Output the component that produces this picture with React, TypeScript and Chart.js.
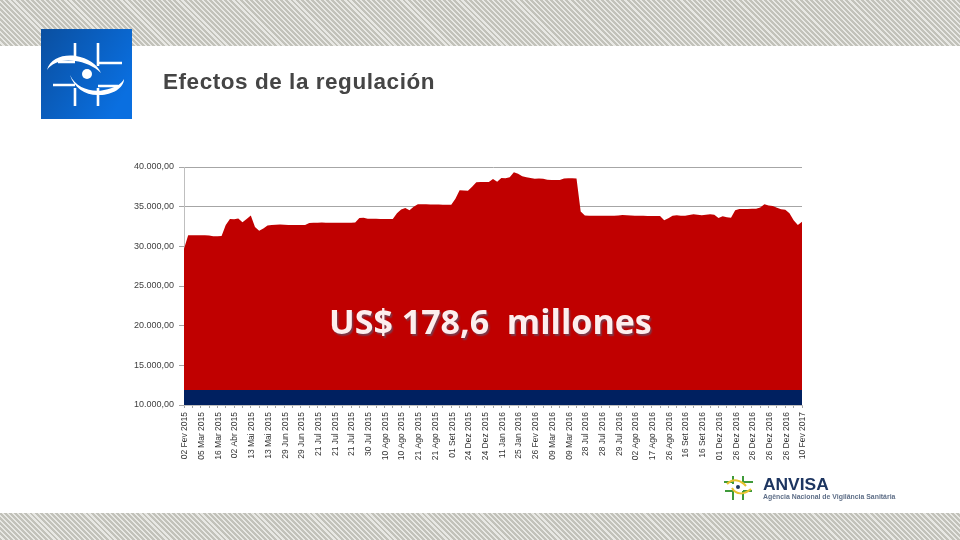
import React, { useEffect, useRef } from "react";
import { Chart, registerables } from "chart.js";

Chart.register(...registerables);

const tickLabels = [
  "02 Fev 2015", "05 Mar 2015", "16 Mar 2015", "02 Abr 2015", "13 Mai 2015", "13 Mai 2015",
  "29 Jun 2015", "29 Jun 2015", "21 Jul 2015", "21 Jul 2015", "21 Jul 2015", "30 Jul 2015",
  "10 Ago 2015", "10 Ago 2015", "21 Ago 2015", "21 Ago 2015", "01 Set 2015", "24 Dez 2015",
  "24 Dez 2015", "11 Jan 2016", "25 Jan 2016", "26 Fev 2016", "09 Mar 2016", "09 Mar 2016",
  "28 Jul 2016", "28 Jul 2016", "29 Jul 2016", "02 Ago 2016", "17 Ago 2016", "26 Ago 2016",
  "16 Set 2016", "16 Set 2016", "01 Dez 2016", "26 Dez 2016", "26 Dez 2016", "26 Dez 2016",
  "26 Dez 2016", "10 Fev 2017",
];

const redValues = [
  29700, 31390, 31400, 31400, 31400, 31400, 31350, 31280, 31280, 31290,
  32700, 33440, 33400, 33520, 33050, 33450, 33880, 32440, 31950, 32250,
  32640, 32680, 32710, 32750, 32720, 32690, 32690, 32680, 32680, 32680,
  32940, 32980, 32980, 32990, 32980, 32980, 32970, 32980, 32980, 32980,
  32980, 32990, 33580, 33600, 33480, 33480, 33470, 33460, 33450, 33450,
  33450, 34180, 34650, 34830, 34560, 35000, 35300, 35300, 35290, 35280,
  35270, 35260, 35250, 35240, 35250, 36000, 37060, 37040, 37010, 37500,
  38070, 38100, 38100, 38110, 38490, 38150, 38620, 38580, 38700, 39350,
  39150, 38830, 38720, 38600, 38530, 38550, 38520, 38400, 38370, 38360,
  38360, 38550, 38580, 38580, 38560, 34400, 33880, 33860, 33860, 33860,
  33860, 33860, 33860, 33870, 33900, 33950, 33920, 33880, 33860, 33860,
  33850, 33830, 33820, 33820, 33820, 33280, 33550, 33850, 33930, 33860,
  33870, 33960, 34030, 33980, 33920, 33990, 34050, 33970, 33560, 33780,
  33660, 33600, 34550, 34720, 34720, 34720, 34730, 34740, 34900, 35290,
  35150, 35080, 34850, 34680, 34600, 34180, 33300, 32700, 33110,
];

const blueLevel = 11900;
const blueValues = redValues.map(() => blueLevel);
const pointsPerLabel = 4;
const categories = redValues.map((_, i) =>
  i % pointsPerLabel === 0 ? tickLabels[i / pointsPerLabel] : ""
);

const stripes =
  "repeating-linear-gradient(45deg, #c2c2ba 0px, #c2c2ba 2.1px, #e8e8e4 2.1px, #e8e8e4 3.6px)";

function formatTick(v: number) {
  return String(Math.round(v)).replace(/\B(?=(\d{3})+$)/g, ".") + ",00";
}

export default function App() {
  const ref = useRef<HTMLCanvasElement>(null);
  useEffect(() => {
    const chart = new Chart(ref.current!, {
      type: "line",
      data: {
        labels: categories,
        datasets: [
          { data: blueValues, backgroundColor: "#002060", borderWidth: 0, pointRadius: 0, fill: "origin", tension: 0 },
          { data: redValues, backgroundColor: "#C00000", borderWidth: 0, pointRadius: 0, fill: "origin", tension: 0 },
        ],
      },
      options: {
        responsive: false,
        animation: false,
        layout: { padding: { top: 167, right: 158, left: 0, bottom: 0 } },
        plugins: { legend: { display: false }, tooltip: { enabled: false } },
        scales: {
          y: {
            min: 10000,
            max: 40000,
            afterFit: (s: any) => { s.width = 184; },
            ticks: {
              stepSize: 5000,
              padding: 5,
              color: "#404040",
              font: { family: "Liberation Sans", size: 9 },
              callback: (v: any) => formatTick(Number(v)),
            },
            grid: { color: "#A6A6A6", tickLength: 5 },
            border: { color: "#BFBFBF" },
          },
          x: {
            afterFit: (s: any) => { s.height = 135; },
            ticks: {
              autoSkip: false,
              maxRotation: 90,
              minRotation: 90,
              padding: 4,
              labelOffset: 1,
              color: "#333333",
              font: { family: "Liberation Sans", size: 8.5 },
            },
            grid: {
              drawOnChartArea: false,
              tickLength: 3,
              tickColor: (c: any) => (c.index % 2 === 0 ? "#A6A6A6" : "rgba(0,0,0,0)"),
            },
            border: { color: "#BFBFBF" },
          },
        },
      },
    } as any);
    return () => chart.destroy();
  }, []);

  return (
    <div style={{ position: "fixed", left: 0, top: 0, width: 960, height: 540, background: "#fff", overflow: "hidden" }}>
      <div style={{ position: "absolute", left: 0, top: 0, width: 960, height: 46, background: stripes }} />
      <div style={{ position: "absolute", left: 0, top: 513, width: 960, height: 27, background: stripes }} />
      <canvas ref={ref} width={960} height={540} style={{ position: "absolute", left: 0, top: 0, display: "block" }} />

      <svg width={960} height={540} style={{ position: "absolute", left: 0, top: 0 }}>
        <defs>
          <linearGradient id="lg" x1="0" y1="0" x2="1" y2="0.6">
            <stop offset="0" stopColor="#0a4fa0" />
            <stop offset="1" stopColor="#0a6fe0" />
          </linearGradient>
        </defs>
        <rect x={41} y={29} width={91} height={90} fill="url(#lg)" />
        <g stroke="#fff" strokeWidth={2.6} fill="none">
          <path d="M75 43V61M98 43V66M75 88V106M98 88V106M98 63H122M58 62H75M53 85H75M98 86H118" />
        </g>
        <path d="M47 70C50 58 64 54 76 56C88 58 97 64 101 73C94 66 84 62 75 61C64 59 52 62 47 70Z" fill="#fff" />
        <path d="M70 75C76 88 92 93 104 90C114 88 122 84 124 79C124 88 112 95 100 95C86 96 74 88 70 75Z" fill="#fff" />
        <circle cx={87} cy={74} r={5} fill="#fff" />

        <g fill="none" strokeWidth={2}>
          <path d="M733 476V484M743 476V484M733 491V500M743 491V500M724 482H733M743 482H753M725 491H733M743 491H752" stroke="#3f9a3a" />
          <path d="M727 484C733 478 741 480 746 486M732 488C736 495 744 495 751 489" stroke="#e9c22e" />
        </g>
        <circle cx={738} cy={487} r={2} fill="#1d3560" />
        <text x={763} y={490} fontFamily="Liberation Sans" fontWeight={700} fontSize={17.4} fill="#1d3560">ANVISA</text>
        <text x={763} y={499} fontFamily="Liberation Sans" fontSize={6.9} fontWeight={700} fill="#5f6f88">Agência Nacional de Vigilância Sanitária</text>
      </svg>

      <div style={{ position: "absolute", left: 163, top: 69, font: "700 22.5px 'Liberation Sans'", letterSpacing: "0.55px", color: "#454545", whiteSpace: "pre", lineHeight: "26px" }}>
        Efectos de la regulación
      </div>
      <div style={{ position: "absolute", left: 329, top: 298, font: "700 34px 'Open Sans'", color: "#fdeeee", whiteSpace: "pre", lineHeight: "46px", textShadow: "1.5px 1.5px 1.5px #7c3a4a" }}>
        US$ 178,6  millones
      </div>
    </div>
  );
}
